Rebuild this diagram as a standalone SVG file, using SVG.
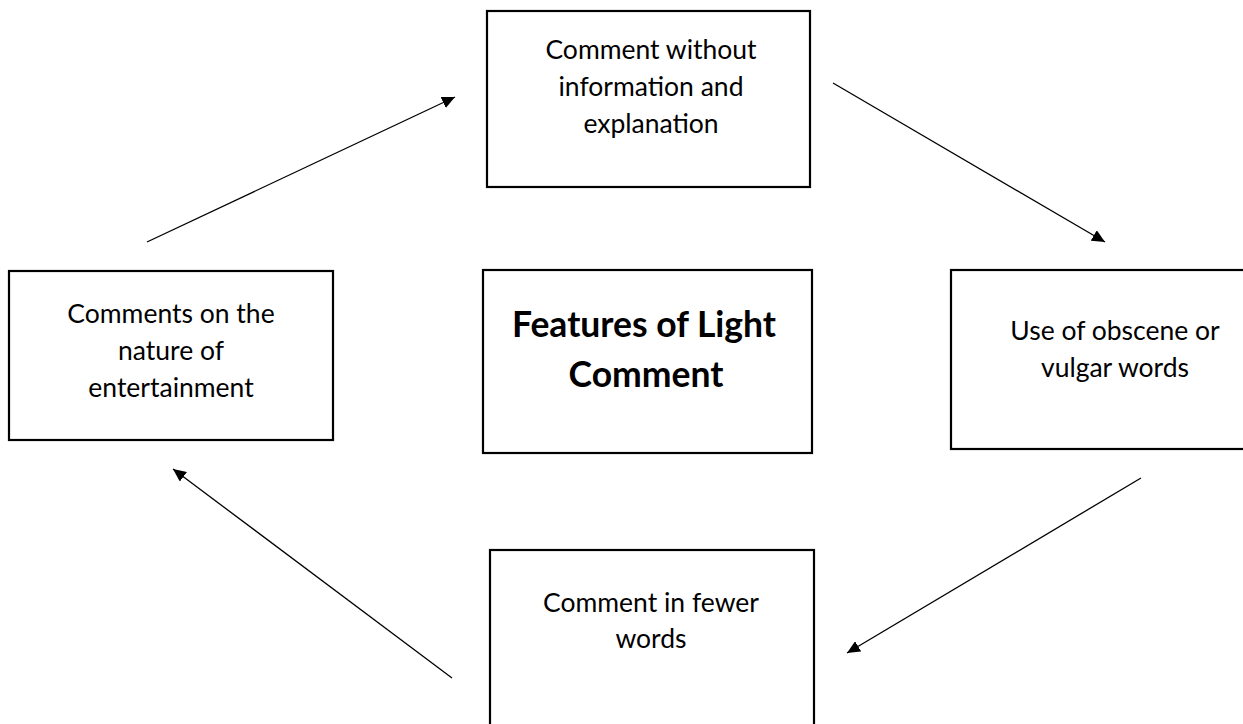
<svg xmlns="http://www.w3.org/2000/svg" width="1243" height="724" viewBox="0 0 1243 724">
<defs>
<marker id="ah" markerUnits="userSpaceOnUse" markerWidth="14" markerHeight="12" refX="13" refY="6" orient="auto">
<path d="M0,0 L13,6 L0,12 z" fill="#000"/>
</marker>
<style>
.box{fill:#fff;stroke:#000;stroke-width:2.2}
.t{font-family:Lato,"Noto Sans",sans-serif;font-size:26.5px;fill:#000;text-anchor:middle}
.tb{font-family:Lato,"Noto Sans",sans-serif;font-size:35.5px;font-weight:bold;fill:#000;text-anchor:middle}
.c{stroke:#000;stroke-width:1.3;fill:none;marker-end:url(#ah)}
</style>
</defs>
<rect width="1243" height="724" fill="#fff"/>
<g id="n-top">
<rect class="box" x="487" y="11" width="323" height="176"/>
<text class="t" x="651" y="59">Comment without</text>
<text class="t" x="651" y="96">information and</text>
<text class="t" x="651" y="133">explanation</text>
</g>
<g id="n-left">
<rect class="box" x="9" y="271" width="324" height="169"/>
<text class="t" x="171" y="323">Comments on the</text>
<text class="t" x="171" y="360">nature of</text>
<text class="t" x="171" y="397">entertainment</text>
</g>
<g id="n-center">
<rect class="box" x="483" y="270" width="329" height="183"/>
<text class="tb" x="644" y="337">Features of Light</text>
<text class="tb" x="646" y="387">Comment</text>
</g>
<g id="n-right">
<rect class="box" x="951" y="270" width="330" height="179"/>
<text class="t" x="1115" y="340">Use of obscene or</text>
<text class="t" x="1115" y="377">vulgar words</text>
</g>
<g id="n-bottom">
<rect class="box" x="490" y="550" width="324" height="190"/>
<text class="t" x="651" y="612">Comment in fewer</text>
<text class="t" x="651" y="648">words</text>
</g>
<g id="connectors">
<line class="c" x1="147" y1="242" x2="455" y2="97"/>
<line class="c" x1="833" y1="83" x2="1105" y2="242"/>
<line class="c" x1="1141" y1="478" x2="847" y2="653"/>
<line class="c" x1="452" y1="678" x2="173" y2="469"/>
</g>
</svg>
